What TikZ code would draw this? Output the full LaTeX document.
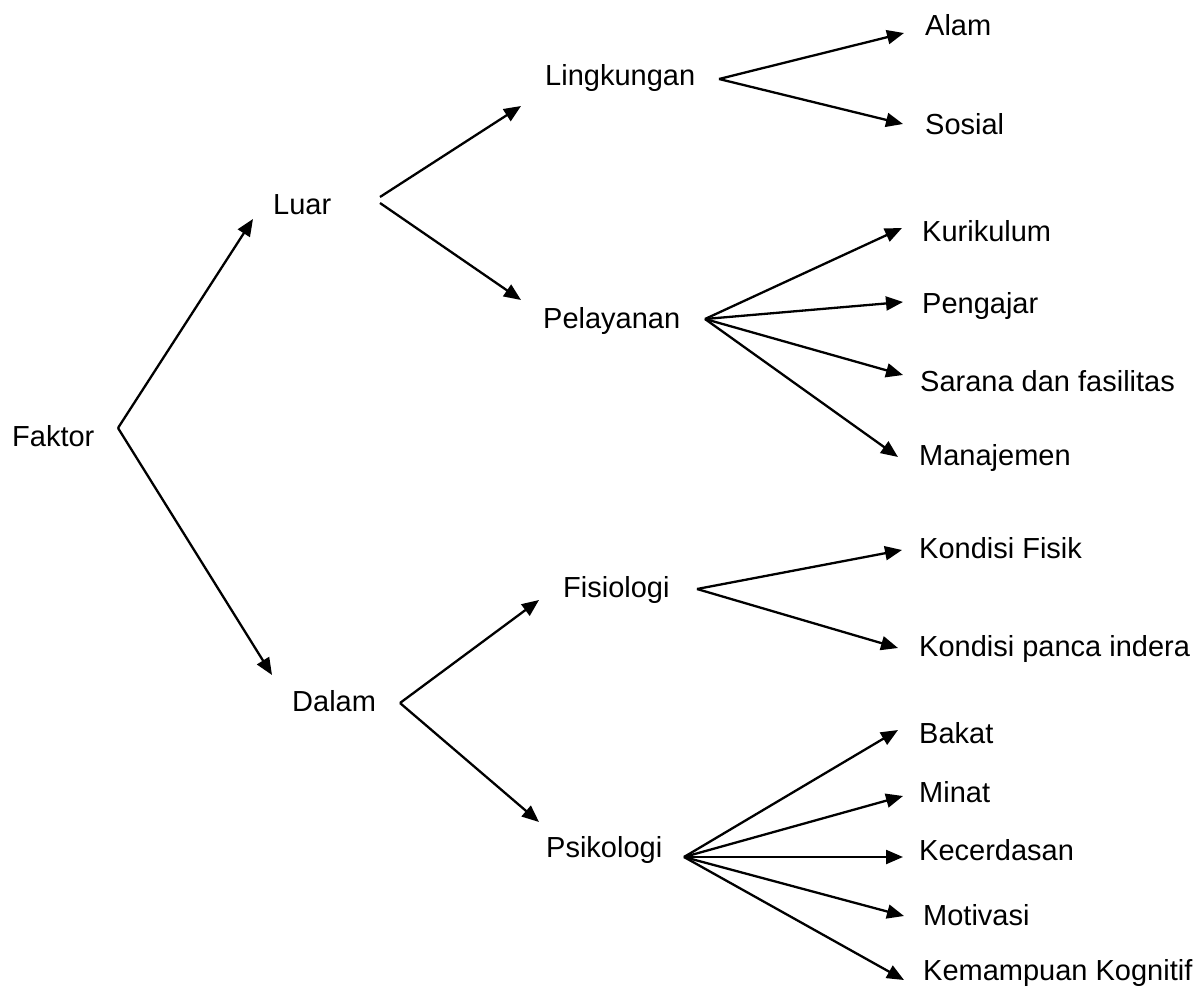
\documentclass[tikz,border=0pt]{standalone}
\usepackage{fontspec}
\setmainfont{Liberation Sans}
\usetikzlibrary{arrows.meta}
\begin{document}
\begin{tikzpicture}[x=1pt,y=-1pt,
  lbl/.style={anchor=base west,inner sep=0pt,font=\fontsize{29}{34}\selectfont},
  conn/.style={line width=2.3pt,-{Triangle[length=17pt,width=14pt]}}]
\useasboundingbox (0,0) rectangle (1199,992);
% text nodes
\node[lbl] (faktor) at (12,446) {Faktor};
\node[lbl] (luar) at (273,215) {Luar};
\node[lbl] (dalam) at (292,711) {Dalam};
\node[lbl] (lingkungan) at (545,86) {Lingkungan};
\node[lbl] (pelayanan) at (543,328) {Pelayanan};
\node[lbl] (fisiologi) at (563,597) {Fisiologi};
\node[lbl] (psikologi) at (546,857) {Psikologi};
\node[lbl] (alam) at (925,36) {Alam};
\node[lbl] (sosial) at (925,135) {Sosial};
\node[lbl] (kurikulum) at (922,242) {Kurikulum};
\node[lbl] (pengajar) at (922,313) {Pengajar};
\node[lbl] (sarana) at (920,391) {Sarana dan fasilitas};
\node[lbl] (manajemen) at (919,465) {Manajemen};
\node[lbl] (kfisik) at (919,558) {Kondisi Fisik};
\node[lbl] (kpanca) at (919,656) {Kondisi panca indera};
\node[lbl] (bakat) at (919,743) {Bakat};
\node[lbl] (minat) at (919,802) {Minat};
\node[lbl] (kecerdasan) at (919,860) {Kecerdasan};
\node[lbl] (motivasi) at (923,925) {Motivasi};
\node[lbl] (kemampuan) at (923,980) {Kemampuan Kognitif};
% branch points
\coordinate (faktor-o) at (118,428);
\coordinate (luar-o1) at (380,197);
\coordinate (luar-o2) at (380,203);
\coordinate (dalam-o) at (400,703);
\coordinate (lingkungan-o) at (719,79);
\coordinate (pelayanan-o) at (705,319);
\coordinate (fisiologi-o) at (697,589);
\coordinate (psikologi-o) at (684,857);
% arrow tips
\coordinate (luar-i) at (253,219);
\coordinate (dalam-i) at (272,675);
\coordinate (lingkungan-i) at (521,106);
\coordinate (pelayanan-i) at (521,300);
\coordinate (fisiologi-i) at (539,600);
\coordinate (psikologi-i) at (539,822);
\coordinate (alam-i) at (904,33);
\coordinate (sosial-i) at (903,124);
\coordinate (kurikulum-i) at (902,228);
\coordinate (pengajar-i) at (903,302);
\coordinate (sarana-i) at (903,375);
\coordinate (manajemen-i) at (898,457);
\coordinate (kfisik-i) at (902,550);
\coordinate (kpanca-i) at (898,648);
\coordinate (bakat-i) at (898,730);
\coordinate (minat-i) at (903,796);
\coordinate (kecerdasan-i) at (903,857);
\coordinate (motivasi-i) at (904,916);
\coordinate (kemampuan-i) at (904,980);
% connectors
\draw[conn] (faktor-o) -- (luar-i);
\draw[conn] (faktor-o) -- (dalam-i);
\draw[conn] (luar-o1) -- (lingkungan-i);
\draw[conn] (luar-o2) -- (pelayanan-i);
\draw[conn] (dalam-o) -- (fisiologi-i);
\draw[conn] (dalam-o) -- (psikologi-i);
\draw[conn] (lingkungan-o) -- (alam-i);
\draw[conn] (lingkungan-o) -- (sosial-i);
\draw[conn] (pelayanan-o) -- (kurikulum-i);
\draw[conn] (pelayanan-o) -- (pengajar-i);
\draw[conn] (pelayanan-o) -- (sarana-i);
\draw[conn] (pelayanan-o) -- (manajemen-i);
\draw[conn] (fisiologi-o) -- (kfisik-i);
\draw[conn] (fisiologi-o) -- (kpanca-i);
\draw[conn] (psikologi-o) -- (bakat-i);
\draw[conn] (psikologi-o) -- (minat-i);
\draw[conn] (psikologi-o) -- (kecerdasan-i);
\draw[conn] (psikologi-o) -- (motivasi-i);
\draw[conn] (psikologi-o) -- (kemampuan-i);
\end{tikzpicture}
\end{document}
